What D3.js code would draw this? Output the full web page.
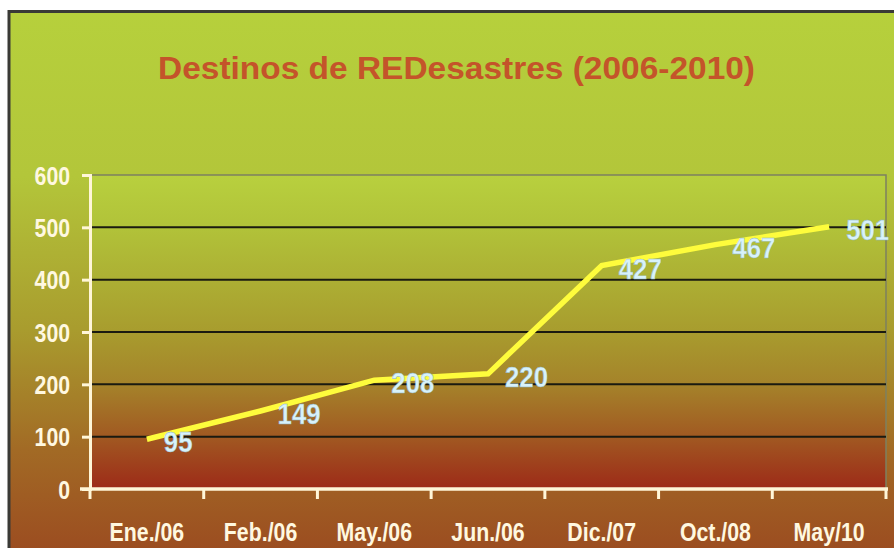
<!DOCTYPE html>
<html>
<head>
<meta charset="utf-8">
<style>
  body { margin: 0; background: #fff; }
  svg text { font-family: Arial, "Liberation Sans", sans-serif; font-weight: bold; }
</style>
</head>
<body>
<div id="chart"></div>
<script src="https://cdn.jsdelivr.net/npm/d3@7/dist/d3.min.js"></script>
<script>
// data
let meses = ['Ene./06', 'Feb./06', 'May./06', 'Jun./06', 'Dic./07', 'Oct./08', 'May/10'];
let destinos = [95, 149, 208, 220, 427, 467, 501];
let yTicks = [0, 100, 200, 300, 400, 500, 600];
let titulo = 'Destinos de REDesastres (2006-2010)';

let W = 894, H = 548;
let plot = {left: 90, right: 886, top: 175, bottom: 489};

let svg = d3.select('#chart').append('svg')
    .attr('width', W).attr('height', H);

let defs = svg.append('defs');
let gPanel = defs.append('linearGradient').attr('id', 'panelGrad')
    .attr('x1', 0).attr('y1', 0).attr('x2', 0).attr('y2', 1);
[[0, '#b6d03c'], [0.3, '#b3c63a'], [0.58, '#a99c2e'], [0.8, '#a26a25'], [1, '#9b4a20']]
    .forEach(s => gPanel.append('stop').attr('offset', s[0]).attr('stop-color', s[1]));
let gPlot = defs.append('linearGradient').attr('id', 'plotGrad')
    .attr('x1', 0).attr('y1', 0).attr('x2', 0).attr('y2', 1);
[[0, '#b8d03e'], [0.17, '#b1c239'], [0.5, '#a89c2e'], [0.67, '#a5822a'], [0.83, '#a15a22'], [1, '#9d2a18']]
    .forEach(s => gPlot.append('stop').attr('offset', s[0]).attr('stop-color', s[1]));

// outer panel with dark border on top/left
svg.append('rect').attr('x', 9).attr('y', 11.5).attr('width', W).attr('height', H)
    .attr('fill', 'url(#panelGrad)').attr('stroke', '#3a3a36').attr('stroke-width', 3);

// title
svg.append('text')
    .attr('x', 158).attr('y', 79)
    .attr('textLength', 597).attr('lengthAdjust', 'spacingAndGlyphs')
    .attr('font-size', 32).attr('fill', '#c4542a')
    .text(titulo);

let x = d3.scaleBand().domain(meses).range([plot.left, plot.right]);
let y = d3.scaleLinear().domain([0, 600]).range([plot.bottom, plot.top]);

// plot area
svg.append('rect')
    .attr('x', plot.left).attr('y', y(600))
    .attr('width', plot.right - plot.left).attr('height', y(0) - y(600))
    .attr('fill', 'url(#plotGrad)').attr('stroke', '#7d8060').attr('stroke-width', 1.5);

// gridlines
svg.append('g').selectAll('line')
    .data(yTicks.filter(d => d > 0 && d < 600))
    .join('line')
    .attr('x1', plot.left).attr('x2', plot.right)
    .attr('y1', d => y(d)).attr('y2', d => y(d))
    .attr('stroke', '#1a1a10').attr('stroke-width', 2);

// y axis
let yAxis = svg.append('g')
    .attr('transform', `translate(${plot.left},0)`)
    .call(d3.axisLeft(y).tickValues(yTicks).tickSize(8).tickPadding(6));
yAxis.select('.domain').attr('stroke', '#fff6d8').attr('stroke-width', 3);
yAxis.selectAll('.tick line').attr('stroke', '#fff6d8').attr('stroke-width', 3);
yAxis.selectAll('.tick text')
    .attr('fill', '#fff8e0').attr('font-size', 25)
    .attr('font-family', null).attr('dy', '0.36em')
    .attr('transform', 'scale(0.85,1)')
    .attr('x', -20 / 0.85);

// x axis: ticks on band boundaries
let xAxis = svg.append('g').attr('transform', `translate(0,${plot.bottom})`);
xAxis.append('line')
    .attr('x1', plot.left - 10).attr('x2', plot.right + 2)
    .attr('stroke', '#fff6d8').attr('stroke-width', 3.5);
xAxis.selectAll('.tk')
    .data(meses.concat(['end']))
    .join('line').attr('class', 'tk')
    .attr('x1', (d, i) => i < meses.length ? x(d) : plot.right)
    .attr('x2', (d, i) => i < meses.length ? x(d) : plot.right)
    .attr('y1', 0).attr('y2', 10)
    .attr('stroke', '#fff6d8').attr('stroke-width', 3);
xAxis.selectAll('text')
    .data(meses)
    .join('text')
    .attr('text-anchor', 'middle')
    .attr('transform', d => `translate(${x(d) + x.bandwidth() / 2},52) scale(0.82,1)`)
    .attr('font-size', 26).attr('fill', '#fff8e0')
    .text(d => d);

// line
let pts = meses.map((m, i) => ({m: m, v: destinos[i]}));
let line = d3.line()
    .x(d => x(d.m) + x.bandwidth() / 2)
    .y(d => y(d.v));
svg.append('path')
    .datum(pts)
    .attr('d', line)
    .attr('fill', 'none')
    .attr('stroke', '#fefc3c').attr('stroke-width', 5.5)
    .attr('stroke-linejoin', 'miter');

// value labels
svg.append('g').selectAll('text')
    .data(pts)
    .join('text')
    .attr('transform', d => `translate(${x(d.m) + x.bandwidth() / 2 + 17},${y(d.v) + 13}) scale(0.86,1)`)
    .attr('font-size', 30).attr('fill', '#d8f2fa')
    .attr('stroke', '#8ab0c0').attr('stroke-width', 0.4)
    .text(d => d.v);
</script>
</body>
</html>
